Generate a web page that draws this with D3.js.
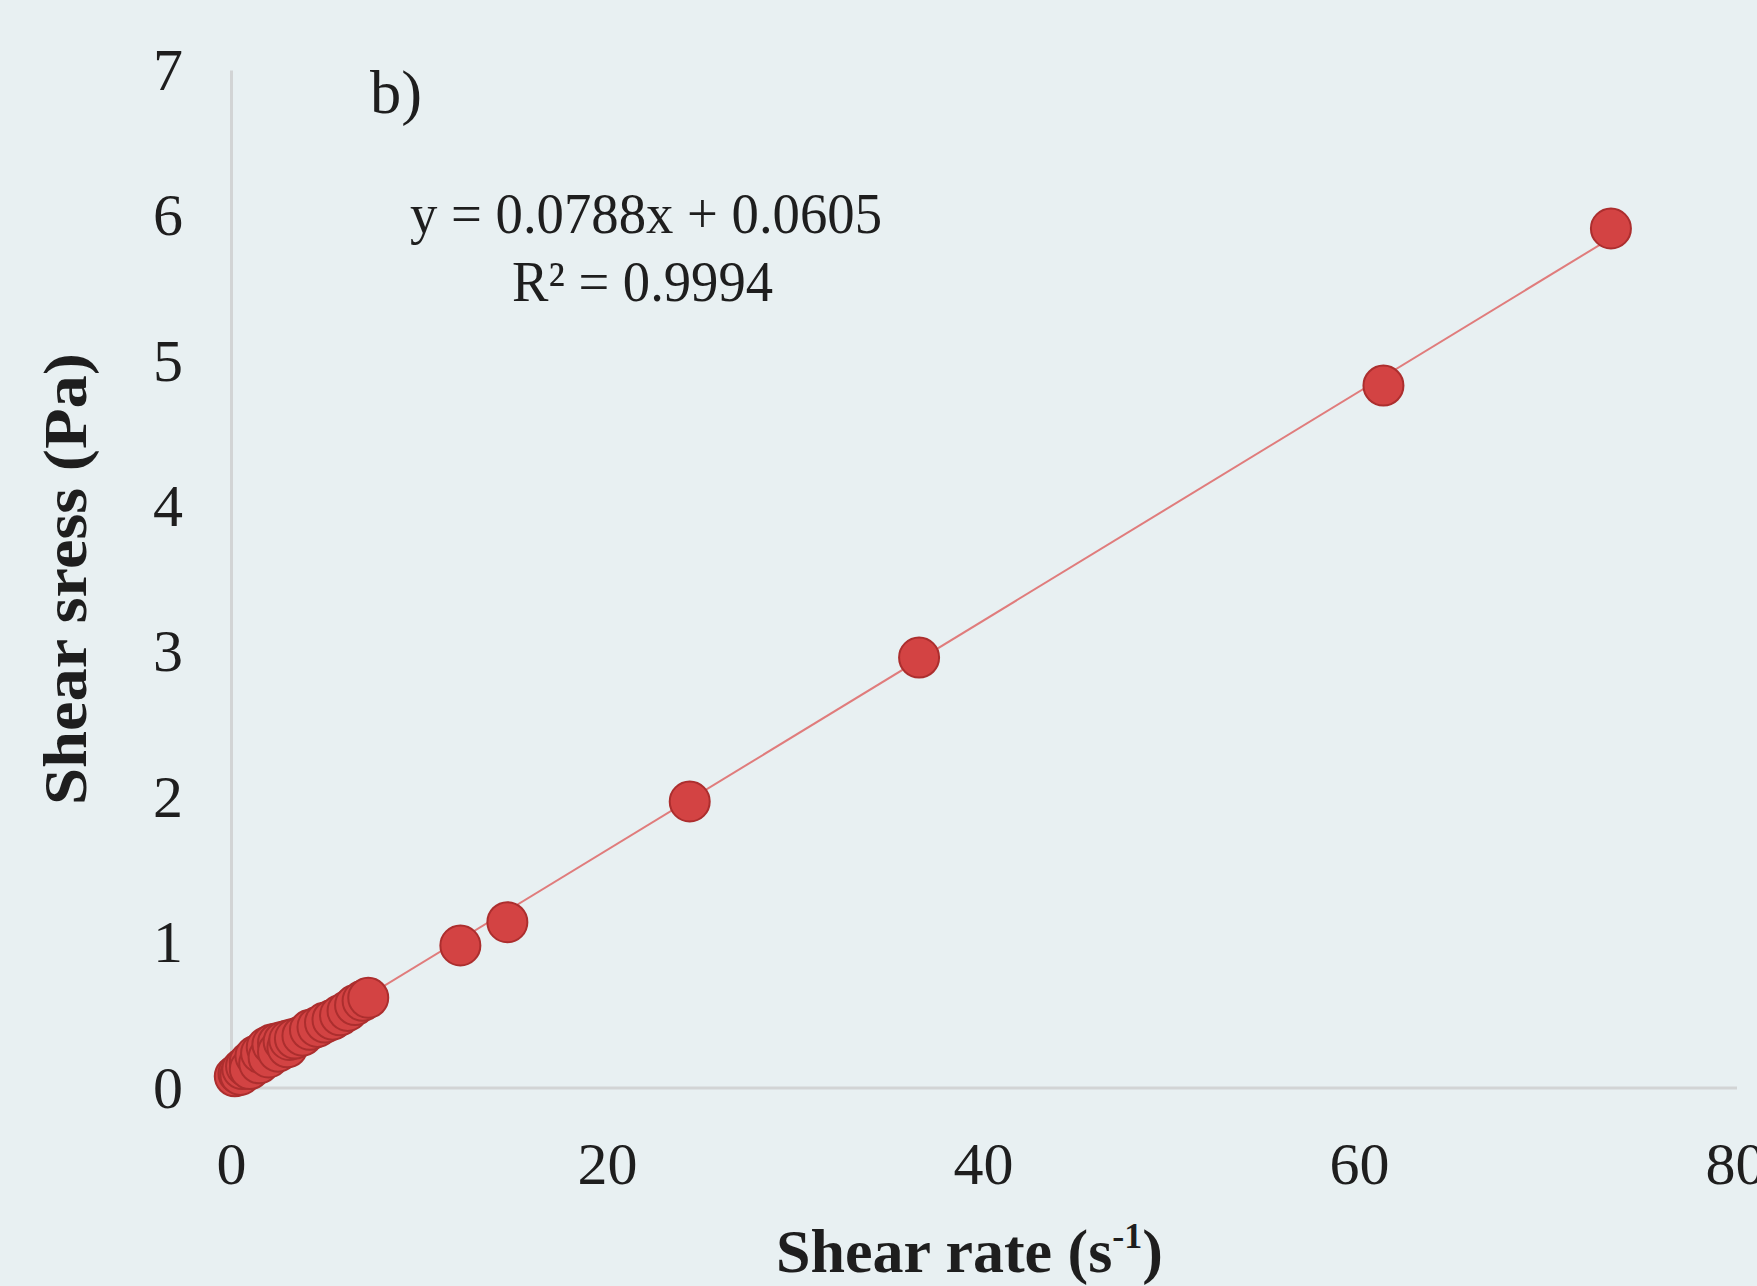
<!DOCTYPE html>
<html>
<head>
<meta charset="utf-8">
<script src="https://cdn.jsdelivr.net/npm/d3@7"></script>
<style>
  html, body { margin: 0; padding: 0; background: #e8f0f2; }
  svg { display: block; }
  text { font-family: "Liberation Serif", "Times New Roman", serif; fill: #1e1e1e; }
</style>
</head>
<body>
<svg id="chart" width="1757" height="1286"></svg>
<script>
// ---- data ----
const shearRate = [0.2, 0.4, 0.5, 0.6, 0.8, 1.0, 1.0, 1.3, 1.5, 1.6, 1.9, 2.0, 2.2, 2.5, 2.5, 2.8, 3.0, 3.1, 3.4, 3.8, 4.2, 4.6, 5.0, 5.4, 5.8, 6.2, 6.6, 7.0, 7.3,
                   12.2, 14.7, 24.4, 36.6, 61.3, 73.4];
const shearStress = [0.08, 0.10, 0.09, 0.13, 0.15, 0.18, 0.13, 0.22, 0.17, 0.24, 0.28, 0.21, 0.30, 0.31, 0.25, 0.32, 0.28, 0.33, 0.34, 0.36, 0.40, 0.42, 0.45, 0.47, 0.50, 0.53, 0.57, 0.60, 0.62,
                     0.98, 1.14, 1.97, 2.96, 4.83, 5.91];
const fitSlope = 0.0788;
const fitIntercept = 0.0605;
const fitRange = [0, 73.4];
const xTicks = [0, 20, 40, 60, 80];
const yTicks = [0, 1, 2, 3, 4, 5, 6, 7];
const eqLine1 = "y = 0.0788x + 0.0605";
const eqLine2 = "R² = 0.9994";
const panelLabel = "b)";
const xTitle = "Shear rate (s";
const xTitleSup = "-1";
const yTitle = "Shear sress (Pa)";

// ---- layout ----
const svg = d3.select("#chart");
const x = d3.scaleLinear().domain([0, 80]).range([231, 1735]);
const y = d3.scaleLinear().domain([0, 7]).range([1088, 70]);

// axes
const gx = svg.append("g").attr("transform", "translate(0,1088)")
  .call(d3.axisBottom(x).tickValues(xTicks).tickFormat(d3.format("d"))
    .tickSize(0).tickSizeOuter(0).tickPadding(53));
const gy = svg.append("g").attr("transform", "translate(231,0)")
  .call(d3.axisLeft(y).tickValues(yTicks).tickFormat(d3.format("d"))
    .tickSize(0).tickSizeOuter(0).tickPadding(48));
[gx, gy].forEach(g => {
  g.select(".domain").attr("stroke", "#d2d4d5").attr("stroke-width", 3);
  g.selectAll("text").style("font-family", "'Liberation Serif', serif")
    .style("font-size", "60px").attr("fill", "#222");
});
gx.select(".domain").attr("d", `M${x(0)},0H1737`);

// trend line
svg.append("path")
  .datum(fitRange.map(v => [v, fitSlope * v + fitIntercept]))
  .attr("fill", "none")
  .attr("stroke", "#e07c7c")
  .attr("stroke-width", 2)
  .attr("d", d3.line().x(d => x(d[0])).y(d => y(d[1])));

// points
svg.append("g").selectAll("circle")
  .data(shearRate.map((v, i) => [v, shearStress[i]]))
  .join("circle")
  .attr("cx", d => x(d[0]))
  .attr("cy", d => y(d[1]))
  .attr("r", 20)
  .attr("fill", "#d34343")
  .attr("stroke", "#ac2e2e")
  .attr("stroke-width", 2);

// annotations
svg.append("text").attr("x", 370).attr("y", 113)
  .style("font-size", "62px").attr("textLength", 52).attr("lengthAdjust", "spacingAndGlyphs")
  .text(panelLabel);
svg.append("text").attr("x", 410).attr("y", 233)
  .style("font-size", "58px").attr("textLength", 472).attr("lengthAdjust", "spacingAndGlyphs")
  .text(eqLine1);
svg.append("text").attr("x", 512).attr("y", 301)
  .style("font-size", "58px").attr("textLength", 261).attr("lengthAdjust", "spacingAndGlyphs")
  .text(eqLine2);

// x title
const xt = svg.append("text").attr("x", 776).attr("y", 1272)
  .style("font-size", "62px").style("font-weight", "bold");
xt.append("tspan").text(xTitle);
xt.append("tspan").attr("dy", -24).style("font-size", "36px").text(xTitleSup);
xt.append("tspan").attr("dy", 24).text(")");

// y title
svg.append("text")
  .attr("transform", "translate(86,579) rotate(-90)")
  .attr("text-anchor", "middle")
  .style("font-size", "62px").style("font-weight", "bold")
  .attr("textLength", 452).attr("lengthAdjust", "spacingAndGlyphs")
  .text(yTitle);
</script>
</body>
</html>
